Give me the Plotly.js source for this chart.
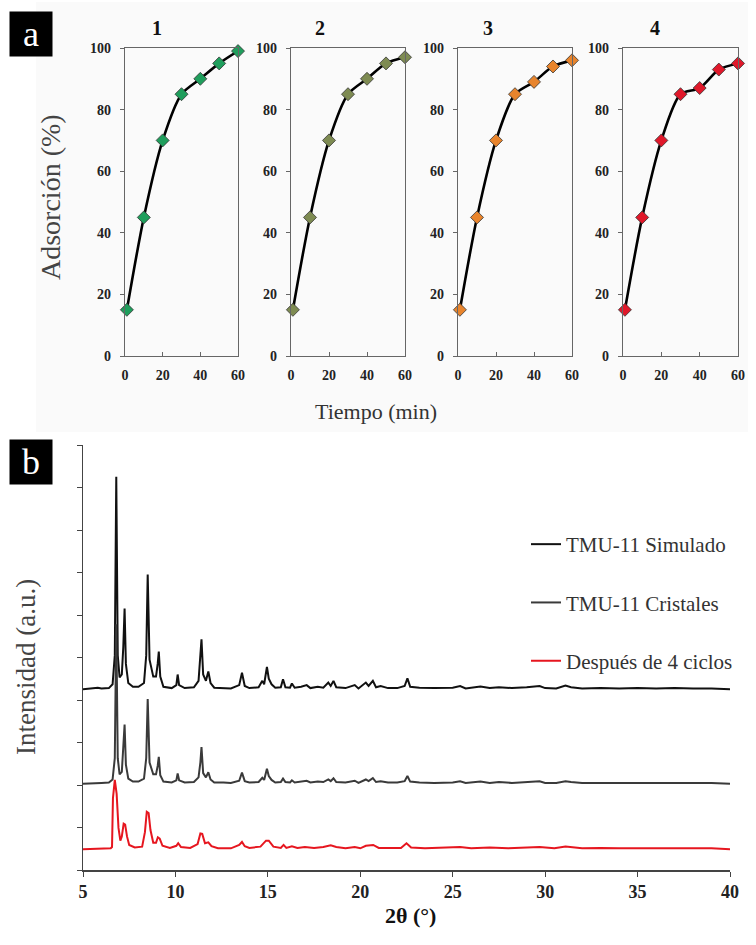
<!DOCTYPE html>
<html>
<head>
<meta charset="utf-8">
<script src="https://cdn.plot.ly/plotly-3.0.1.min.js"></script>
<style>html,body{margin:0;padding:0;background:#fff}#chart{width:756px;height:945px}</style>
</head>
<body>
<div id="chart"></div>
<script>
// ---------- Panel a data ----------
var timeMin = [1, 10, 20, 30, 40, 50, 60];
var ads1 = [15, 45, 70, 85, 90, 95, 99];
var ads2 = [15, 45, 70, 85, 90, 95, 97];
var ads3 = [15, 45, 70, 85, 89, 94, 96];
var ads4 = [15, 45, 70, 85, 87, 93, 95];
var cycleLabels = ['1', '2', '3', '4'];
var markerColors = ['#1f9e5c', '#7e8b52', '#e8842c', '#e0182a'];

// ---------- Panel b data (PXRD, intensity above each pattern's baseline) ----------
var seriesNames = ['TMU-11 Simulado', 'TMU-11 Cristales', 'Después de 4 ciclos'];
var simX = [5.0,5.6,5.8,6.0,6.4,6.6,6.72,6.8,6.88,6.98,7.1,7.18,7.25,7.32,7.45,7.7,8.0,8.3,8.42,8.5,
  8.6,8.8,8.95,9.04,9.1,9.18,9.35,9.8,10.05,10.12,10.2,10.5,11.0,11.25,11.35,11.41,11.5,11.65,11.78,11.9,
  12.1,12.6,13.0,13.45,13.6,13.75,14.0,14.5,14.7,14.8,14.95,15.05,15.2,15.4,15.7,15.82,15.95,16.2,16.3,16.45,
  16.8,17.1,17.3,17.7,18.0,18.27,18.4,18.55,18.7,19.2,19.7,19.9,20.3,20.45,20.68,20.85,21.1,21.5,22.0,22.4,
  22.55,22.7,23.2,24.0,25.0,25.4,25.7,26.5,27.0,27.5,28.2,29.0,29.7,30.0,30.6,31.1,31.4,32.0,33.0,34.0,
  35.0,36.0,37.0,38.0,39.0,40.0];
var simY = [0,0.02,0.04,0.02,0.03,0.12,0.8,5.0,0.8,0.28,0.35,1.0,1.9,0.6,0.15,0.06,0.06,0.15,0.8,2.7,
  0.7,0.3,0.3,0.6,0.89,0.3,0.06,0.03,0.1,0.35,0.1,0.03,0.05,0.2,0.7,1.18,0.35,0.2,0.42,0.15,
  0.04,0.03,0.02,0.1,0.39,0.08,0.03,0.05,0.2,0.12,0.53,0.25,0.12,0.04,0.05,0.24,0.05,0.04,0.14,0.04,
  0.06,0.1,0.03,0.06,0.04,0.16,0.08,0.2,0.05,0.03,0.1,0.02,0.16,0.08,0.2,0.05,0.08,0.03,0.03,0.08,
  0.26,0.06,0.04,0.03,0.04,0.08,0.02,0.07,0.03,0.05,0.03,0.05,0.08,0.03,0.02,0.09,0.05,0.02,0.03,0.02,
  0.03,0.02,0.03,0.02,0.02,0];
var crisY = [0,0.02,0.03,0.02,0.03,0.1,0.6,3.75,0.6,0.22,0.28,0.75,1.39,0.45,0.12,0.05,0.05,0.12,0.6,1.99,
  0.5,0.22,0.22,0.42,0.63,0.2,0.05,0.03,0.08,0.24,0.08,0.03,0.04,0.15,0.5,0.86,0.25,0.15,0.27,0.1,
  0.03,0.03,0.02,0.07,0.26,0.06,0.03,0.04,0.14,0.09,0.35,0.18,0.09,0.03,0.04,0.12,0.04,0.03,0.08,0.03,
  0.05,0.07,0.03,0.05,0.04,0.1,0.06,0.13,0.04,0.03,0.07,0.02,0.1,0.06,0.13,0.04,0.06,0.03,0.03,0.06,
  0.18,0.05,0.03,0.02,0.03,0.06,0.02,0.05,0.02,0.04,0.02,0.04,0.06,0.02,0.02,0.06,0.04,0.02,0.02,0.02,
  0.02,0.02,0.02,0.02,0.02,0];
var redX = [5.0,6.0,6.5,6.57,6.62,6.72,6.82,6.92,7.02,7.1,7.2,7.28,7.38,7.5,7.8,8.2,8.35,8.45,8.55,8.65,
  8.8,8.95,9.05,9.15,9.3,9.7,10.05,10.15,10.3,10.8,11.2,11.35,11.45,11.6,11.78,11.95,12.3,13.0,13.45,13.6,
  13.75,14.0,14.6,14.9,15.05,15.3,15.7,15.85,16.0,16.3,16.6,17.0,17.5,18.0,18.4,18.7,19.2,19.7,20.0,20.3,
  20.7,21.0,21.5,22.2,22.5,22.75,23.5,24.5,25.4,26.0,27.0,28.0,29.0,29.7,30.5,31.1,32.0,33.0,34.0,35.0,
  36.0,37.0,38.0,39.0,40.0];
var redY = [0,0.01,0.02,0.05,1.2,1.63,1.3,0.5,0.2,0.3,0.6,0.58,0.3,0.1,0.04,0.06,0.4,0.88,0.85,0.45,
  0.15,0.15,0.28,0.25,0.08,0.03,0.08,0.14,0.05,0.03,0.12,0.37,0.36,0.14,0.16,0.07,0.02,0.02,0.1,0.17,
  0.07,0.03,0.06,0.2,0.2,0.06,0.03,0.1,0.03,0.07,0.03,0.05,0.03,0.05,0.09,0.05,0.02,0.05,0.02,0.08,
  0.1,0.03,0.03,0.03,0.14,0.04,0.02,0.03,0.05,0.02,0.04,0.02,0.03,0.05,0.02,0.06,0.02,0.03,0.02,0.02,
  0.02,0.02,0.02,0.02,0];
var baselineOffsets = [4.25, 2.03, 0.49];
var lineColors = ['#111111', '#3a3a3a', '#e6161f'];

// ---------- helpers ----------
var W = 756, H = 945;
function px(x) { return x / W; }
function py(y) { return 1 - y / H; }
var serif = 'Liberation Serif';

var adsSeries = [ads1, ads2, ads3, ads4];
var xDomains = [[125, 238], [291, 405], [458, 572], [623, 738]];
var titleX = [157, 320, 488, 655];
var data = [];
var layout = {
  width: W, height: H,
  margin: {l: 0, r: 0, t: 0, b: 0},
  paper_bgcolor: '#ffffff', plot_bgcolor: '#ffffff',
  showlegend: true,
  font: {family: serif, color: '#222'},
  shapes: [], annotations: []
};

// faint panel-a background
layout.shapes.push({type: 'rect', xref: 'paper', yref: 'paper', x0: px(36), x1: px(748), y0: py(432), y1: py(2),
  fillcolor: '#fafafa', line: {width: 0}, layer: 'below'});

var tickFontA = {family: serif, size: 14, color: '#222', weight: 'bold'};
for (var i = 0; i < 4; i++) {
  var n = i + 1;
  var xa = n === 1 ? 'x' : 'x' + n;
  var ya = n === 1 ? 'y' : 'y' + n;
  data.push({
    x: timeMin, y: adsSeries[i], xaxis: xa, yaxis: ya, type: 'scatter', mode: 'lines+markers',
    line: {color: '#000', width: 2.6, shape: 'spline', smoothing: 0.8},
    marker: {symbol: 'diamond', size: 10, color: markerColors[i], line: {color: '#333', width: 0.8}},
    showlegend: false, cliponaxis: false, hoverinfo: 'skip'
  });
  var xKey = n === 1 ? 'xaxis' : 'xaxis' + n;
  var yKey = n === 1 ? 'yaxis' : 'yaxis' + n;
  layout[xKey] = {
    domain: [px(xDomains[i][0]), px(xDomains[i][1])], anchor: ya, range: [0, 60],
    tickvals: [0, 20, 40, 60], ticks: 'inside', ticklen: 4, tickcolor: '#666',
    showline: true, linecolor: '#666', linewidth: 1.2, mirror: true,
    showgrid: false, zeroline: false, ticklabelstandoff: 6, tickfont: tickFontA
  };
  layout[yKey] = {
    domain: [py(356), py(48)], anchor: xa, range: [0, 100],
    tickvals: [0, 20, 40, 60, 80, 100], ticks: 'outside', ticklen: 4, tickcolor: '#666',
    showline: true, linecolor: '#666', linewidth: 1.2, mirror: true,
    showgrid: false, zeroline: false, ticklabelstandoff: 6, tickfont: tickFontA
  };
  layout.annotations.push({xref: 'paper', yref: 'paper', x: px(titleX[i]), y: py(28),
    xanchor: 'center', yanchor: 'middle',
    text: cycleLabels[i], showarrow: false, font: {family: serif, size: 20, color: '#111', weight: 'bold'}});
}

// Panel b traces
var xsets = [simX, simX, redX];
var ysets = [simY, crisY, redY];
for (var k = 0; k < 3; k++) {
  var off = baselineOffsets[k];
  data.push({
    x: xsets[k], y: ysets[k].map(function (v) { return v + off; }),
    xaxis: 'x5', yaxis: 'y5', type: 'scatter', mode: 'lines', name: seriesNames[k],
    legendgroup: 'g' + k,
    line: {color: lineColors[k], width: 2, shape: 'linear'}, hoverinfo: 'skip'
  });
}
layout.xaxis5 = {
  domain: [px(83), px(730)], anchor: 'y5', range: [5, 40], tickvals: [5, 10, 15, 20, 25, 30, 35, 40],
  ticks: 'outside', ticklen: 5, tickcolor: '#444', showline: true, linecolor: '#444', linewidth: 1.5,
  showgrid: false, zeroline: false,
  tickfont: {family: serif, size: 18, color: '#222', weight: 'bold'}
};
layout.yaxis5 = {
  domain: [py(870), py(445)], anchor: 'x5', range: [0, 10], dtick: 1, tick0: 0,
  ticks: 'outside', ticklen: 5, tickcolor: '#444', showline: true, linecolor: '#444', linewidth: 1.5,
  showticklabels: false, showgrid: false, zeroline: false
};
layout.legend = {
  x: px(526), y: py(524), xanchor: 'left', yanchor: 'top', bgcolor: 'rgba(0,0,0,0)',
  tracegroupgap: 28, traceorder: 'grouped', itemwidth: 30,
  font: {family: serif, size: 21, color: '#333'}
};

// axis titles and panel labels
layout.annotations.push(
  {xref: 'paper', yref: 'paper', x: px(50), y: py(197), xanchor: 'center', yanchor: 'middle',
    text: 'Adsorción (%)', textangle: -90, showarrow: false, font: {family: serif, size: 28, color: '#444'}},
  {xref: 'paper', yref: 'paper', x: px(376), y: py(412), xanchor: 'center', yanchor: 'middle',
    text: 'Tiempo (min)', showarrow: false, font: {family: serif, size: 22, color: '#333'}},
  {xref: 'paper', yref: 'paper', x: px(26), y: py(667), xanchor: 'center', yanchor: 'middle',
    text: 'Intensidad (a.u.)', textangle: -90, showarrow: false, font: {family: serif, size: 27, color: '#444'}},
  {xref: 'paper', yref: 'paper', x: px(410), y: py(915), xanchor: 'center', yanchor: 'middle',
    text: '2θ (°)', showarrow: false, font: {family: serif, size: 22, color: '#111', weight: 'bold'}},
  {xref: 'paper', yref: 'paper', x: px(31), y: py(34), xanchor: 'center', yanchor: 'middle',
    text: 'a', showarrow: false, bgcolor: '#000', width: 40, height: 42, font: {family: serif, size: 36, color: '#fff'}},
  {xref: 'paper', yref: 'paper', x: px(31), y: py(462), xanchor: 'center', yanchor: 'middle',
    text: 'b', showarrow: false, bgcolor: '#000', width: 40, height: 42, font: {family: serif, size: 36, color: '#fff'}}
);

Plotly.newPlot('chart', data, layout, {staticPlot: true, displayModeBar: false});
</script>
</body>
</html>
